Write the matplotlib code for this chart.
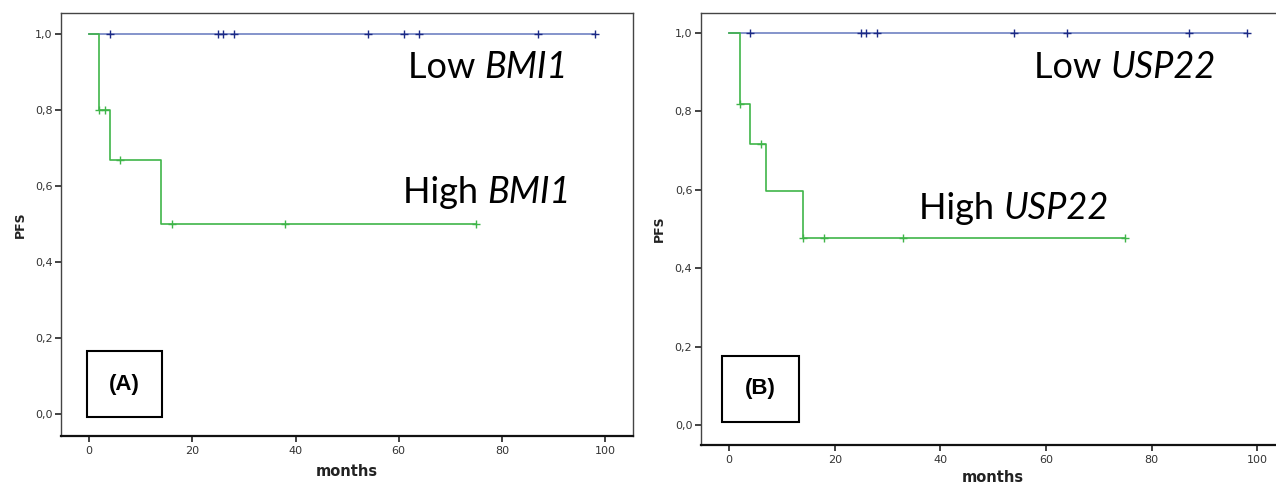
import numpy as np
import matplotlib
matplotlib.use("Agg")
import matplotlib.pyplot as plt
from matplotlib.patches import Rectangle

# ---------------- data ----------------
# Panel A: BMI1
bmi_low_times = [0, 98]
bmi_low_surv = [1.0, 1.0]
bmi_low_censor = [4, 25, 26, 28, 54, 61, 64, 87, 98]

bmi_high_times = [0, 2, 4, 14, 75]
bmi_high_surv = [1.0, 0.8, 0.667, 0.5, 0.5]
bmi_high_censor = [2, 3, 6, 16, 38, 75]

# Panel B: USP22
usp_low_times = [0, 98]
usp_low_surv = [1.0, 1.0]
usp_low_censor = [4, 25, 26, 28, 54, 64, 87, 98]

usp_high_times = [0, 2, 4, 7, 14, 75]
usp_high_surv = [1.0, 0.818, 0.716, 0.597, 0.477, 0.477]
usp_high_censor = [2, 6, 14, 18, 33, 75]

x_ticks = [0, 20, 40, 60, 80, 100]
y_ticks = [0.0, 0.2, 0.4, 0.6, 0.8, 1.0]
y_ticklabels = ["0,0", "0,2", "0,4", "0,6", "0,8", "1,0"]

BLUE_LINE = "#7081c2"
BLUE_MARK = "#1c2a85"
GREEN = "#3fb549"
LABEL_FONT = "Lato"
LABEL_SIZE = 26


def surv_at(times, surv, t):
    times = np.asarray(times, float)
    surv = np.asarray(surv, float)
    idx = np.searchsorted(times, t, side="right") - 1
    return surv[np.clip(idx, 0, len(surv) - 1)]


def draw_km(ax, times, surv, censor, line_c, mark_c, z):
    ax.step(times, surv, where="post", color=line_c, lw=1.2, zorder=z)
    cy = [surv_at(times, surv, t) for t in censor]
    ax.plot(censor, cy, ls="none", marker="+", ms=5.5, mew=1.0,
            color=mark_c, zorder=z + 0.5)


def group_label(ax, x, y, plain, gene):
    t1 = ax.text(x, y, plain + " ", fontsize=LABEL_SIZE, family=LABEL_FONT,
                 va="baseline", ha="left")
    ax.annotate(gene, xy=(1, 0), xycoords=t1, va="bottom", ha="left",
                fontsize=LABEL_SIZE, family=LABEL_FONT, style="italic")


def style_axes(ax, ylim, xlim, xpad):
    ax.set_xlim(*xlim)
    ax.set_ylim(*ylim)
    ax.set_xticks(x_ticks)
    ax.set_yticks(y_ticks)
    ax.set_yticklabels(y_ticklabels)
    ax.tick_params(axis="both", direction="out", length=4, width=1.2,
                   labelsize=8, labelcolor="#333333", color="#222222")
    ax.tick_params(axis="x", pad=3)
    ax.tick_params(axis="y", pad=2)
    for s in ["left", "top", "right"]:
        ax.spines[s].set_color("#444444")
        ax.spines[s].set_linewidth(1.0)
    ax.spines["bottom"].set_color("#111111")
    ax.spines["bottom"].set_linewidth(1.6)
    ax.set_ylabel("PFS", fontsize=9, fontweight="bold", color="#222222",
                  labelpad=6)
    ax.set_xlabel("months", fontsize=10.5, fontweight="bold",
                  color="#222222", labelpad=xpad)


fig = plt.figure(figsize=(12.76, 4.90), dpi=100)
fig.patch.set_facecolor("white")

axA = fig.add_axes([0.0476, 0.1102, 0.4485, 0.8633])
axB = fig.add_axes([0.5491, 0.0918, 0.4586, 0.8816])

# Panel A
draw_km(axA, bmi_low_times, bmi_low_surv, bmi_low_censor, BLUE_LINE, BLUE_MARK, 2)
draw_km(axA, bmi_high_times, bmi_high_surv, bmi_high_censor, GREEN, GREEN, 3)
style_axes(axA, (-0.058, 1.055), (-5.5, 105.4), 6)
group_label(axA, 61.8, 0.885, "Low", "BMI1")
group_label(axA, 60.9, 0.555, "High", "BMI1")
axA.add_patch(Rectangle((-0.4, -0.009), 14.5, 0.175, fill=False,
                        ec="black", lw=1.5, zorder=5))
axA.text(6.85, 0.078, "(A)", fontsize=16, fontweight="bold",
         family="Liberation Sans", ha="center", va="center")

# Panel B
draw_km(axB, usp_low_times, usp_low_surv, usp_low_censor, BLUE_LINE, BLUE_MARK, 2)
draw_km(axB, usp_high_times, usp_high_surv, usp_high_censor, GREEN, GREEN, 3)
style_axes(axB, (-0.051, 1.051), (-5.4, 105.4), 4)
group_label(axB, 57.7, 0.886, "Low", "USP22")
group_label(axB, 36.0, 0.525, "High", "USP22")
axB.add_patch(Rectangle((-1.3, 0.007), 14.5, 0.17, fill=False,
                        ec="black", lw=1.5, zorder=5))
axB.text(5.9, 0.092, "(B)", fontsize=16, fontweight="bold",
         family="Liberation Sans", ha="center", va="center")

fig.savefig("out.png", dpi=100, facecolor="white")
